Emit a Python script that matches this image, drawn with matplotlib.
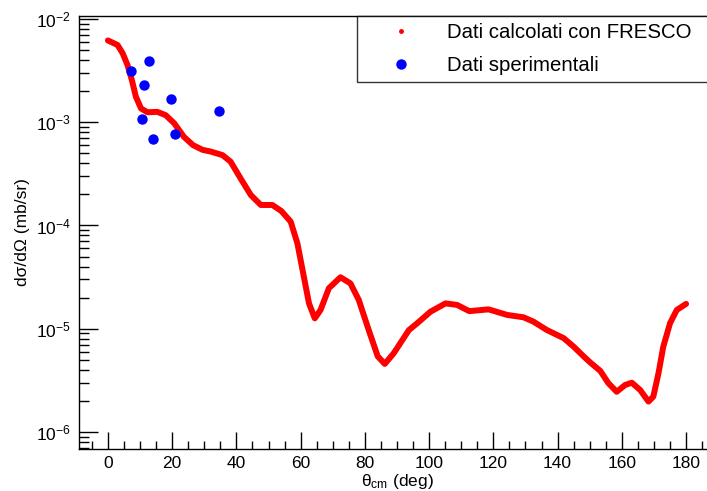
import numpy as np
import matplotlib
matplotlib.use("Agg")
import matplotlib.pyplot as plt
from matplotlib.lines import Line2D
from matplotlib.ticker import LogLocator, MultipleLocator, LogFormatterMathtext, NullFormatter

plt.rcParams['font.family'] = ['Liberation Sans', 'DejaVu Sans']
plt.rcParams['mathtext.fontset'] = 'custom'
plt.rcParams['mathtext.rm'] = 'Liberation Sans'
plt.rcParams['mathtext.it'] = 'Liberation Sans:italic'

# FRESCO calculation
theta_fresco = [0, 3.0, 4.6, 6.1, 7.46, 8.7, 10.3, 12.3, 15.4, 18.0, 20.6, 23.7, 26.5,
                29.5, 32.0, 35.7, 38.2, 41.3, 44.5, 47.6, 51.2, 54.0, 56.9, 59.0, 61.0,
                62.6, 64.4, 66.2, 68.8, 72.4, 75.5, 78.1, 81.2, 84.0, 86.2, 89.0, 93.7,
                96.3, 100.4, 105.1, 108.7, 112.5, 118.5, 124.3, 129.4, 132.5, 136.7,
                141.9, 145.0, 148.1, 150.2, 153.3, 155.8, 158.4, 161.0, 163.1, 165.7,
                168.3, 169.8, 171.4, 172.9, 175.0, 177.1, 180]
xs_fresco = [6.2e-3, 5.6e-3, 4.65e-3, 3.58e-3, 2.56e-3, 1.77e-3, 1.36e-3, 1.25e-3,
             1.26e-3, 1.17e-3, 9.8e-4, 7.2e-4, 6.0e-4, 5.4e-4, 5.2e-4, 4.8e-4, 4.15e-4,
             2.86e-4, 1.97e-4, 1.58e-4, 1.58e-4, 1.38e-4, 1.09e-4, 6.7e-5, 3.19e-5,
             1.76e-5, 1.26e-5, 1.52e-5, 2.47e-5, 3.15e-5, 2.75e-5, 1.9e-5, 9.7e-6,
             5.4e-6, 4.56e-6, 5.8e-6, 9.7e-6, 1.13e-5, 1.46e-5, 1.76e-5, 1.7e-5,
             1.48e-5, 1.54e-5, 1.36e-5, 1.29e-5, 1.17e-5, 9.7e-6, 8.1e-6, 6.7e-6,
             5.4e-6, 4.7e-6, 3.9e-6, 2.97e-6, 2.45e-6, 2.85e-6, 3.0e-6, 2.55e-6,
             1.97e-6, 2.2e-6, 3.7e-6, 6.7e-6, 1.13e-5, 1.52e-5, 1.74e-5]

# experimental data
theta_exp = [7.15, 12.85, 11.1, 19.6, 34.6, 10.6, 14.1, 20.9]
xs_exp = [3.16e-3, 3.92e-3, 2.3e-3, 1.67e-3, 1.29e-3, 1.07e-3, 6.9e-4, 7.7e-4]

W, H = 707, 491
fig = plt.figure(figsize=(W / 100, H / 100), dpi=100)
ax = fig.add_axes([79 / W, (H - 449) / H, (715 - 79) / W, (449 - 16) / H])

ax.plot(theta_fresco, xs_fresco, color='red', lw=4.3, solid_capstyle='round',
        solid_joinstyle='round', zorder=2)
ax.plot(theta_exp, xs_exp, 'o', color='#0000ff', ms=7.5, mec='none', zorder=3)

ax.set_yscale('log')
ax.set_xlim(-9, 189)
ax.set_ylim(10 ** -6.165, 10 ** -1.971)

ax.xaxis.set_major_locator(MultipleLocator(20))
ax.xaxis.set_minor_locator(MultipleLocator(5))
ax.yaxis.set_major_locator(LogLocator(base=10))
ax.yaxis.set_minor_locator(LogLocator(base=10, subs=np.arange(2, 10)))
ax.yaxis.set_major_formatter(LogFormatterMathtext())
ax.yaxis.set_minor_formatter(NullFormatter())

ax.tick_params(axis='both', which='both', direction='in', color='black', width=1,
               labelsize=12.5, top=False, right=False)
ax.tick_params(axis='x', which='major', length=12, pad=5)
ax.tick_params(axis='x', which='minor', length=6)
ax.tick_params(axis='y', which='major', length=13.5, pad=6)
ax.tick_params(axis='y', which='minor', length=7)

for s in ax.spines.values():
    s.set_linewidth(1)

ax.set_xlabel(r'$\mathrm{θ_{cm}}$ (deg)', fontsize=12.5, labelpad=1)
ax.set_ylabel('dσ/dΩ (mb/sr)', fontsize=12.5, labelpad=4)

handles = [Line2D([], [], ls='none', marker='o', color='red', ms=2.5),
           Line2D([], [], ls='none', marker='o', color='#0000ff', ms=7.5, mec='none')]
leg = fig.legend(handles, ['Dati calcolati con FRESCO', 'Dati sperimentali'],
                 loc='upper left',
                 bbox_to_anchor=(357 / W, 1 - 81 / H, (715 - 357) / W, 65 / H),
                 mode='expand', frameon=True, fancybox=False, edgecolor='black',
                 fontsize=14.7, borderaxespad=0, handlelength=3.6, handletextpad=0.46,
                 borderpad=0.35, labelspacing=0.67)
leg.get_frame().set_linewidth(1)

fig.savefig('out.png', dpi=100)
